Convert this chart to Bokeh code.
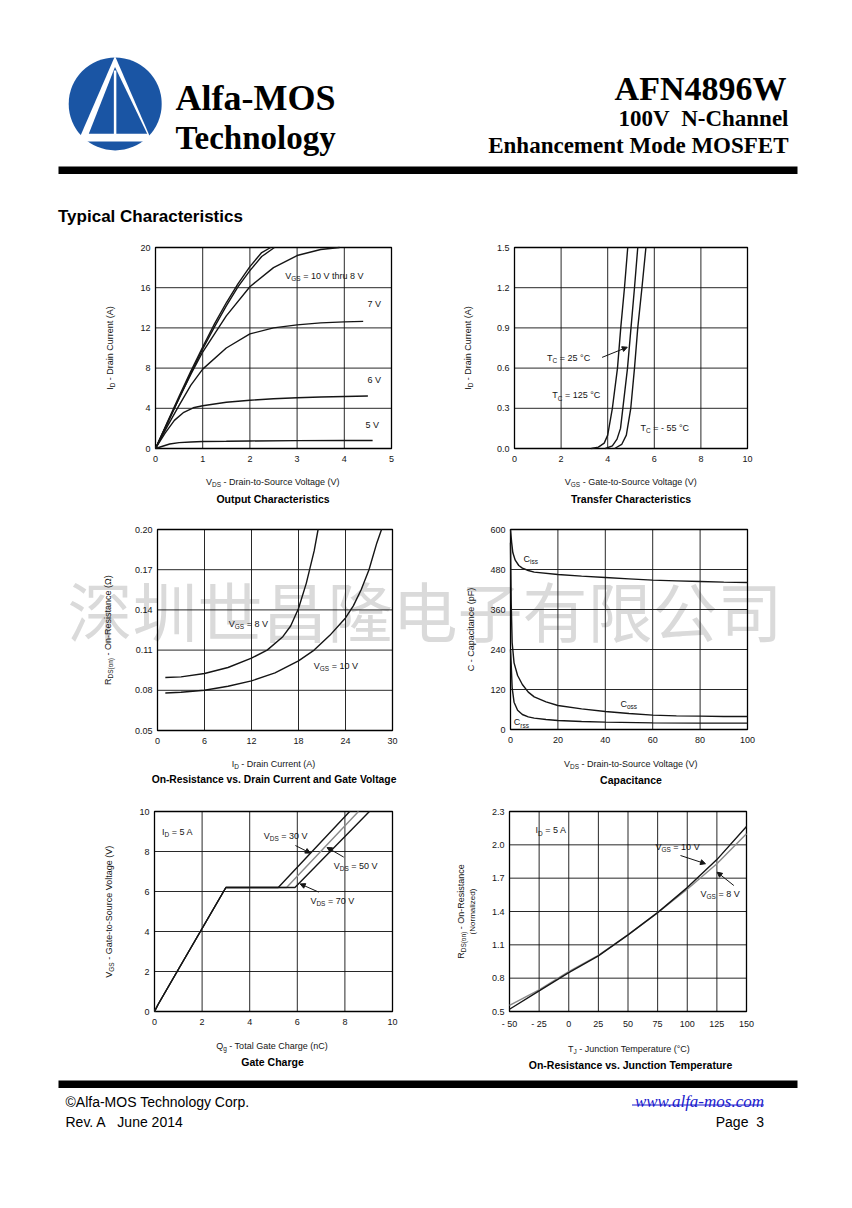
import math
from bokeh.plotting import figure
from bokeh.models import Range1d, FixedTicker, Label, Arrow, NormalHead, LinearAxis
from bokeh.embed import file_html
from bokeh.resources import INLINE

# ---------------- data ----------------
# Output characteristics: VDS (V) -> ID (A)
out_vds_10 = [0, 0.25, 0.5, 0.75, 1.0, 1.25, 1.5, 1.75, 2.0, 2.25, 2.44]
out_id_10 = [0, 2.6, 5.2, 7.7, 10.1, 12.4, 14.5, 16.4, 18.1, 19.5, 20.0]
out_vds_9 = [0, 0.25, 0.5, 0.75, 1.0, 1.25, 1.5, 1.75, 2.0, 2.25, 2.52]
out_id_9 = [0, 2.5, 5.0, 7.5, 9.9, 12.1, 14.2, 16.1, 17.7, 19.1, 20.0]
out_vds_8 = [0, 0.25, 0.5, 0.75, 1.0, 1.5, 2.0, 2.5, 3.0, 3.5, 3.9]
out_id_8 = [0, 2.5, 5.0, 7.4, 9.6, 13.2, 16.1, 18.0, 19.2, 19.8, 20.0]
out_vds_7 = [0, 0.25, 0.5, 0.75, 1.0, 1.5, 2.0, 2.5, 3.0, 3.5, 4.0, 4.4]
out_id_7 = [0, 2.2, 4.3, 6.3, 7.9, 10.0, 11.4, 12.0, 12.3, 12.5, 12.6, 12.65]
out_vds_6 = [0, 0.2, 0.4, 0.6, 0.8, 1.0, 1.5, 2.0, 2.5, 3.0, 3.5, 4.0, 4.5]
out_id_6 = [0, 1.5, 2.8, 3.6, 4.05, 4.25, 4.6, 4.8, 4.95, 5.05, 5.12, 5.18, 5.22]
out_vds_5 = [0, 0.1, 0.2, 0.3, 0.5, 0.75, 1.0, 1.5, 2.0, 3.0, 4.0, 4.6]
out_id_5 = [0, 0.15, 0.3, 0.45, 0.58, 0.65, 0.7, 0.72, 0.75, 0.78, 0.8, 0.8]

# Transfer characteristics: VGS (V) -> ID (A)
tr_vgs_125 = [3.3, 3.6, 3.85, 4.0, 4.2, 4.42, 4.56, 4.72, 4.86]
tr_id_125 = [0, 0.01, 0.04, 0.1, 0.3, 0.6, 0.9, 1.2, 1.5]
tr_vgs_25 = [3.9, 4.2, 4.4, 4.55, 4.65, 4.85, 5.0, 5.15, 5.29]
tr_id_25 = [0, 0.02, 0.07, 0.15, 0.3, 0.6, 0.9, 1.2, 1.5]
tr_vgs_m55 = [4.3, 4.6, 4.8, 4.99, 5.15, 5.29, 5.47, 5.64]
tr_id_m55 = [0, 0.03, 0.1, 0.3, 0.6, 0.9, 1.2, 1.5]

# On-resistance vs drain current: ID (A) -> RDS(on) (ohm)
ron_id_8 = [1, 3, 6, 9, 12, 14, 16, 17, 18, 19, 20, 20.5]
ron_r_8 = [0.0895, 0.090, 0.0925, 0.097, 0.104, 0.110, 0.120, 0.128, 0.141, 0.160, 0.184, 0.200]
ron_id_10 = [1, 3, 6, 9, 12, 15, 18, 20, 22, 24, 25, 26, 27, 28, 28.6]
ron_r_10 = [0.078, 0.0785, 0.080, 0.083, 0.087, 0.093, 0.102, 0.110, 0.121, 0.134, 0.143, 0.155, 0.170, 0.190, 0.200]

# Capacitance: VDS (V) -> C (pF)
cap_v_iss = [0, 0.5, 1, 2, 3.5, 5, 7.5, 10, 20, 30, 40, 50, 60, 70, 80, 90, 100]
cap_ciss = [600, 560, 530, 508, 492, 484, 477, 472, 465, 460, 456, 452, 448, 446, 444, 442, 441]
cap_v_oss = [0, 0.3, 0.7, 1.5, 3, 5, 7.5, 10, 15, 20, 30, 40, 50, 60, 70, 80, 90, 100]
cap_coss = [560, 380, 260, 200, 162, 135, 112, 98, 83, 72, 62, 54, 48, 43, 41, 40, 39, 39]
cap_v_rss = [0, 0.3, 0.7, 1.5, 3, 5, 7.5, 10, 15, 20, 30, 40, 60, 80, 100]
cap_crss = [240, 195, 125, 82, 58, 45, 38, 34, 30, 27, 24, 22, 20, 19, 19]

# Gate charge: Qg (nC) -> VGS (V)
gc_q_30 = [0, 0.15, 1.0, 2.0, 3.0, 5.2, 8.2]
gc_v_30 = [0, 0.35, 2.1, 4.15, 6.2, 6.2, 10.0]
gc_q_50 = [0, 0.15, 1.0, 2.0, 3.0, 5.55, 8.57]
gc_v_50 = [0, 0.35, 2.1, 4.15, 6.2, 6.2, 10.0]
gc_q_70 = [0, 0.15, 1.0, 2.0, 3.0, 5.9, 9.03]
gc_v_70 = [0, 0.35, 2.1, 4.15, 6.2, 6.2, 10.0]

# On-resistance vs junction temperature: TJ (C) -> normalized RDS(on)
tj = [-50, -25, 0, 25, 50, 75, 100, 125, 150]
rn_10 = [0.52, 0.685, 0.85, 1.0, 1.19, 1.39, 1.615, 1.867, 2.165]
rn_8 = [0.555, 0.695, 0.86, 1.005, 1.19, 1.39, 1.60, 1.83, 2.10]

# ticks
c1_xt = [0, 1, 2, 3, 4, 5]; c1_xl = ["0", "1", "2", "3", "4", "5"]
c1_yt = [0, 4, 8, 12, 16, 20]; c1_yl = ["0", "4", "8", "12", "16", "20"]
c2_xt = [0, 2, 4, 6, 8, 10]; c2_xl = ["0", "2", "4", "6", "8", "10"]
c2_yt = [0.0, 0.3, 0.6, 0.9, 1.2, 1.5]; c2_yl = ["0.0", "0.3", "0.6", "0.9", "1.2", "1.5"]
c3_xt = [0, 6, 12, 18, 24, 30]; c3_xl = ["0", "6", "12", "18", "24", "30"]
c3_yt = [0.05, 0.08, 0.11, 0.14, 0.17, 0.20]; c3_yl = ["0.05", "0.08", "0.11", "0.14", "0.17", "0.20"]
c4_xt = [0, 20, 40, 60, 80, 100]; c4_xl = ["0", "20", "40", "60", "80", "100"]
c4_yt = [0, 120, 240, 360, 480, 600]; c4_yl = ["0", "120", "240", "360", "480", "600"]
c5_xt = [0, 2, 4, 6, 8, 10]; c5_xl = ["0", "2", "4", "6", "8", "10"]
c5_yt = [0, 2, 4, 6, 8, 10]; c5_yl = ["0", "2", "4", "6", "8", "10"]
c6_xt = [-50, -25, 0, 25, 50, 75, 100, 125, 150]
c6_xl = ["- 50", "- 25", "0", "25", "50", "75", "100", "125", "150"]
c6_yt = [0.5, 0.8, 1.1, 1.4, 1.7, 2.0, 2.3]; c6_yl = ["0.5", "0.8", "1.1", "1.4", "1.7", "2.0", "2.3"]

WATERMARK = "深圳世昌隆电子有限公司"

# ---------------- style ----------------
SANS = "Liberation Sans"
SERIF = "Liberation Serif"
INK = "#151515"
BLUE = "#1a55a4"
SUB = 0.72
W, H = 852, 1200

AW = {' ': 278, '\u00a0': 278, '!': 278, '(': 333, ')': 333, '-': 333, '.': 278, ',': 278,
      '=': 584, '°': 400, 'Ω': 768}
for c in "0123456789":
    AW[c] = 556
AW.update(dict(A=667, B=667, C=722, D=722, E=667, F=611, G=778, H=722, I=278, J=500, K=667,
               L=556, M=833, N=722, O=778, P=667, Q=778, R=722, S=667, T=611, U=722, V=667,
               W=944, X=667, Y=667, Z=611, a=556, b=556, c=500, d=556, e=556, f=278, g=556,
               h=556, i=222, j=222, k=500, l=222, m=833, n=556, o=556, p=556, q=556, r=333,
               s=500, t=278, u=556, v=500, w=722, x=500, y=500, z=500))

# One page-sized figure; its default ranges are page pixels (y downwards).
page = figure(width=W, height=H, x_range=Range1d(0, W), y_range=Range1d(H, 0),
              output_backend="svg", toolbar_location=None, title_location=None,
              x_axis_location=None, y_axis_location=None, min_border=0,
              outline_line_color=None, background_fill_color="white", border_fill_color="white")
for g in page.grid:
    g.visible = False


def tw(s, size):
    return sum(AW.get(c, 556) for c in s) / 1000.0 * size


def rich(x, y, parts, size=9.0, align="left", angle=0, color=INK, font=SANS):
    total = sum(tw(t, size * (SUB if s else 1)) for t, s in parts)
    pos = {"left": 0, "center": -total / 2, "right": -total}[align]
    a = math.radians(angle)
    ux, uy = math.cos(a), math.sin(a)
    dx, dy = math.sin(a), -math.cos(a)
    for t, s in parts:
        fs = size * (SUB if s else 1)
        lead = len(t) - len(t.lstrip(" "))
        pt = pos + tw(" " * lead, fs)
        sh = size * 0.32 if s else 0
        txt = t.strip(" ")
        if txt:
            page.add_layout(Label(x=x, y=y, x_offset=ux * pt + dx * sh, y_offset=uy * pt + dy * sh,
                                  text=txt, angle=a, text_font=font, text_font_size="%.2fpx" % fs,
                                  text_color=color, text_align="left", text_baseline="middle"))
        pos += tw(t, fs)


def title_label(x, y, text, size="10.5px"):
    page.add_layout(Label(x=x, y=y, text=text, text_font=SANS, text_font_size=size,
                          text_font_style="bold", text_color="#000000",
                          text_align="center", text_baseline="middle"))


def htext(x, y, text, size, font, align="left", style="bold", color="#000000"):
    page.add_layout(Label(x=x, y=y, text=text, text_font=font, text_font_size=size,
                          text_font_style=style, text_color=color, text_align=align,
                          text_baseline="alphabetic"))


def arrow(x0, y0, x1, y1):
    page.add_layout(Arrow(end=NormalHead(size=5, fill_color=INK, line_color=INK, line_width=1),
                          x_start=x0, y_start=y0, x_end=x1, y_end=y1,
                          line_color=INK, line_width=1))


class Chart:
    """A plot box inside the page figure, with its own named ranges and axes."""

    def __init__(self, name, frame, xr, yr, xt, xl, yt, yl):
        self.fl, self.ft, self.fw, self.fh = frame
        self.xr, self.yr = xr, yr
        self.nx, self.ny = name + "_x", name + "_y"
        sx = (xr[1] - xr[0]) / self.fw
        sy = (yr[1] - yr[0]) / self.fh
        ex = dict(page.extra_x_ranges)
        ex[self.nx] = Range1d(xr[0] - self.fl * sx, xr[0] + (W - self.fl) * sx)
        page.extra_x_ranges = ex
        ey = dict(page.extra_y_ranges)
        ey[self.ny] = Range1d(yr[0] - (H - self.ft - self.fh) * sy, yr[1] + self.ft * sy)
        page.extra_y_ranges = ey
        rn = dict(x_range_name=self.nx, y_range_name=self.ny)
        # grid
        page.segment(x0=xt, y0=[yr[0]] * len(xt), x1=xt, y1=[yr[1]] * len(xt),
                     line_color="#111111", line_width=1, line_alpha=0.9, **rn)
        page.segment(x0=[xr[0]] * len(yt), y0=yt, x1=[xr[1]] * len(yt), y1=yt,
                     line_color="#111111", line_width=1, line_alpha=0.9, **rn)
        page.quad(left=[xr[0]], right=[xr[1]], bottom=[yr[0]], top=[yr[1]], fill_color=None,
                  line_color="#000000", line_width=1.3, **rn)
        # axes pinned to the plot box edges
        common = dict(axis_line_color=None, major_tick_line_color=None, major_tick_in=0,
                      major_tick_out=0, minor_tick_line_color=None, minor_tick_in=0,
                      minor_tick_out=0, major_label_text_font=SANS,
                      major_label_text_font_size="9px", major_label_text_color=INK, **rn)
        xax = LinearAxis(fixed_location=yr[0], ticker=FixedTicker(ticks=xt),
                         major_label_overrides={t: l for t, l in zip(xt, xl)},
                         major_label_standoff=7, **common)
        yax = LinearAxis(fixed_location=xr[0], ticker=FixedTicker(ticks=yt),
                         major_label_overrides={t: l for t, l in zip(yt, yl)},
                         major_label_standoff=5, **common)
        page.add_layout(xax, "below")
        page.add_layout(yax, "left")

    def px(self, x, y):
        return (self.fl + (x - self.xr[0]) / (self.xr[1] - self.xr[0]) * self.fw,
                self.ft + (self.yr[1] - y) / (self.yr[1] - self.yr[0]) * self.fh)

    def line(self, x, y, color=INK, width=1.4):
        page.line(x, y, line_color=color, line_width=width, x_range_name=self.nx, y_range_name=self.ny)

    def note(self, x, y, parts):
        rich(*self.px(x, y), parts, align="left")

    def arrow(self, x0, y0, x1, y1):
        a = self.px(x0, y0)
        b = self.px(x1, y1)
        arrow(a[0], a[1], b[0], b[1])


# ---------------- watermark (behind everything) ----------------
page.add_layout(Label(x=67, y=608, text=WATERMARK, text_font="Noto Sans CJK SC",
                      text_font_size="65px", text_color="#dadada", text_align="left",
                      text_baseline="middle", level="image"))

# ---------------- header ----------------
page.circle(x=[114.7], y=[103.4], radius=46.5, fill_color=BLUE, line_color=None)
page.patch([114.5, 77.5, 151.5], [55.5, 141, 141], fill_color="white", line_color=None)
page.patch([114.5, 88.3, 146.7], [66.5, 133.3, 133.3], fill_color=BLUE, line_color=None)
page.segment(x0=[114.6], y0=[70], x1=[114.6], y1=[133.6], line_color="white", line_width=2.5)
page.quad(left=[58], right=[797], top=[166], bottom=[173.5], fill_color="#000000", line_color=None)
htext(175, 97, "Alfa-MOS", "36px", SERIF)
htext(175, 137.3, "Technology", "33px", SERIF)
htext(786, 88.3, "AFN4896W", "34px", SERIF, align="right")
htext(788, 118.3, "100V\u00a0 N-Channel", "23px", SERIF, align="right")
htext(788, 145, "Enhancement Mode MOSFET", "23px", SERIF, align="right")
htext(57.5, 215.5, "Typical Characteristics", "17px", SANS)

# ---------------- chart 1: output characteristics ----------------
c1 = Chart("c1", (155, 247, 236, 201), (0, 5), (0, 20), c1_xt, c1_xl, c1_yt, c1_yl)
c1.line(out_vds_5, out_id_5)
c1.line(out_vds_6, out_id_6)
c1.line(out_vds_7, out_id_7)
c1.line(out_vds_8, out_id_8)
c1.line(out_vds_9, out_id_9)
c1.line(out_vds_10, out_id_10)
c1.note(2.75, 17.2, [("V", 0), ("GS", 1), (" = 10 V thru 8 V", 0)])
c1.note(4.49, 14.4, [("7 V", 0)])
c1.note(4.49, 6.77, [("6 V", 0)])
c1.note(4.45, 2.29, [("5 V", 0)])
rich(109, 347.5, [("I", 0), ("D", 1), (" - Drain Current (A)", 0)], align="center", angle=90)
rich(272.5, 481, [("V", 0), ("DS", 1), (" - Drain-to-Source Voltage (V)", 0)], align="center")
title_label(272.5, 498.5, "Output Characteristics")

# ---------------- chart 2: transfer characteristics ----------------
c2 = Chart("c2", (514, 247, 233, 201), (0, 10), (0, 1.5), c2_xt, c2_xl, c2_yt, c2_yl)
c2.line(tr_vgs_125, tr_id_125)
c2.line(tr_vgs_25, tr_id_25)
c2.line(tr_vgs_m55, tr_id_m55)
c2.note(1.40, 0.677, [("T", 0), ("C", 1), (" = 25 °C", 0)])
c2.note(1.62, 0.396, [("T", 0), ("C", 1), (" = 125 °C", 0)])
c2.note(5.41, 0.154, [("T", 0), ("C", 1), (" = - 55 °C", 0)])
c2.arrow(3.76, 0.68, 4.84, 0.756)
rich(467, 347.5, [("I", 0), ("D", 1), (" - Drain Current (A)", 0)], align="center", angle=90)
rich(630.5, 481, [("V", 0), ("GS", 1), (" - Gate-to-Source Voltage (V)", 0)], align="center")
title_label(630.5, 498.5, "Transfer Characteristics")

# ---------------- chart 3: on-resistance vs drain current ----------------
c3 = Chart("c3", (157, 529, 235, 201), (0, 30), (0.05, 0.20), c3_xt, c3_xl, c3_yt, c3_yl)
c3.line(ron_id_8, ron_r_8)
c3.line(ron_id_10, ron_r_10)
c3.note(9.1, 0.1296, [("V", 0), ("GS", 1), (" = 8 V", 0)])
c3.note(19.95, 0.0985, [("V", 0), ("GS", 1), (" = 10 V", 0)])
rich(107.5, 629.5, [("R", 0), ("DS(on)", 1), (" - On-Resistance (Ω)", 0)], align="center", angle=90)
rich(273, 763, [("I", 0), ("D", 1), (" - Drain Current (A)", 0)], align="center")
title_label(273.5, 778.5, "On-Resistance vs. Drain Current and Gate Voltage", size="10.3px")

# ---------------- chart 4: capacitance ----------------
c4 = Chart("c4", (510, 529, 237, 200), (0, 100), (0, 600), c4_xt, c4_xl, c4_yt, c4_yl)
c4.line(cap_v_iss, cap_ciss)
c4.line(cap_v_oss, cap_coss)
c4.line(cap_v_rss, cap_crss)
c4.note(5.5, 513, [("C", 0), ("iss", 1)])
c4.note(46.4, 78, [("C", 0), ("oss", 1)])
c4.note(1.4, 22, [("C", 0), ("rss", 1)])
rich(470, 629, [("C - Capacitance (pF)", 0)], align="center", angle=90)
rich(630.5, 763, [("V", 0), ("DS", 1), (" - Drain-to-Source Voltage (V)", 0)], align="center")
title_label(630.5, 779, "Capacitance")

# ---------------- chart 5: gate charge ----------------
c5 = Chart("c5", (154, 811, 238, 200), (0, 10), (0, 10), c5_xt, c5_xl, c5_yt, c5_yl)
c5.line(gc_q_50, gc_v_50, color="#8a8a8a")
c5.line(gc_q_70, gc_v_70)
c5.line(gc_q_30, gc_v_30)
c5.note(0.32, 8.97, [("I", 0), ("D", 1), (" = 5 A", 0)])
c5.note(4.59, 8.8, [("V", 0), ("DS", 1), (" = 30 V", 0)])
c5.note(7.53, 7.3, [("V", 0), ("DS", 1), (" = 50 V", 0)])
c5.note(6.55, 5.55, [("V", 0), ("DS", 1), (" = 70 V", 0)])
c5.arrow(5.92, 8.3, 6.55, 7.92)
c5.arrow(7.95, 7.72, 7.25, 8.2)
c5.arrow(6.9, 5.97, 6.12, 6.38)
rich(108, 911, [("V", 0), ("GS", 1), (" - Gate-to-Source Voltage (V)", 0)], align="center", angle=90)
rich(272, 1045, [("Q", 0), ("g", 1), (" - Total Gate Charge (nC)", 0)], align="center")
title_label(272, 1061, "Gate Charge")

# ---------------- chart 6: on-resistance vs junction temperature ----------------
c6 = Chart("c6", (509, 811, 237, 200), (-50, 150), (0.5, 2.3), c6_xt, c6_xl, c6_yt, c6_yl)
c6.line(tj, rn_8, color="#8a8a8a")
c6.line(tj, rn_10)
c6.note(-28, 2.13, [("I", 0), ("D", 1), (" = 5 A", 0)])
c6.note(73.2, 1.98, [("V", 0), ("GS", 1), (" = 10 V", 0)])
c6.note(111.2, 1.56, [("V", 0), ("GS", 1), (" = 8 V", 0)])
c6.arrow(94.3, 1.904, 115.4, 1.83)
c6.arrow(139.3, 1.634, 125.2, 1.754)
rich(460, 911, [("R", 0), ("DS(on)", 1), (" - On-Resistance", 0)], align="center", angle=90)
rich(472, 911, [("(Normalized)", 0)], size=8, align="center", angle=90)
rich(629, 1048, [("T", 0), ("J", 1), (" - Junction Temperature (°C)", 0)], align="center")
title_label(630, 1064, "On-Resistance vs. Junction Temperature")

# ---------------- footer ----------------
page.quad(left=[58], right=[797], top=[1080], bottom=[1087.5], fill_color="#000000", line_color=None)
htext(65, 1101, "©Alfa-MOS Technology Corp.", "14px", SANS, style="normal")
htext(65, 1121, "Rev. A\u00a0\u00a0 June 2014", "14px", SANS, style="normal")
htext(763.5, 1101, "www.alfa-mos.com", "17px", SERIF, align="right", style="italic", color="#1a1acc")
page.segment(x0=[631.5], y0=[1104.5], x1=[763.5], y1=[1104.5], line_color="#1a1acc", line_width=1)
htext(763.5, 1121, "Page\u00a0 3", "14px", SANS, align="right", style="normal")

open("out.html", "w").write(file_html(page, INLINE))
